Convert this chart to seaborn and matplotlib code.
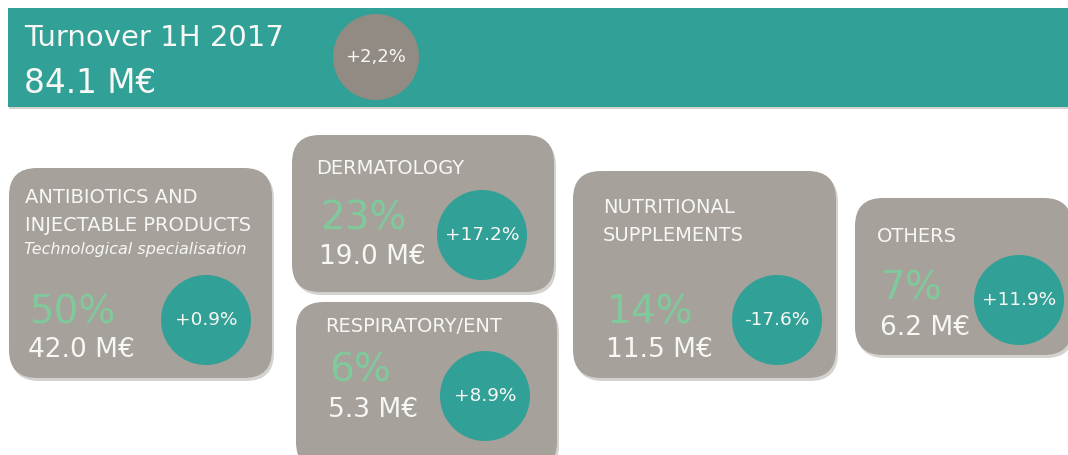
import matplotlib
matplotlib.use("Agg")
import matplotlib.pyplot as plt
import seaborn as sns
from matplotlib.patches import FancyBboxPatch, Circle, Rectangle

# --- data ---
header_title = "Turnover 1H 2017"
total_turnover = 84.1          # M€
total_growth = 2.2             # %

segments = ["ANTIBIOTICS AND\nINJECTABLE PRODUCTS", "DERMATOLOGY", "RESPIRATORY/ENT",
            "NUTRITIONAL\nSUPPLEMENTS", "OTHERS"]
subtitles = ["Technological specialisation", "", "", "", ""]
shares = [50, 23, 6, 14, 7]                  # % of turnover
amounts = [42.0, 19.0, 5.3, 11.5, 6.2]       # M€
growth = [0.9, 17.2, 8.9, -17.6, 11.9]       # % change

# --- layout (pixel coords, y down) ---
# box (x0, y0, x1, y1), text x, first title baseline, pct baseline, amount baseline, circle centre
layout = [
    dict(box=(9, 168, 272, 378), tx=25, ty=203, py=323, ay=357, circ=(206, 320)),
    dict(box=(292, 135, 554, 292), tx=316, ty=174, py=230, ay=264, circ=(482, 235)),
    dict(box=(296, 302, 557, 470), tx=325, ty=332, py=382, ay=417, circ=(485, 396)),
    dict(box=(573, 171, 836, 378), tx=603, ty=213, py=323, ay=357, circ=(777, 320)),
    dict(box=(855, 198, 1072, 355), tx=877, ty=242, py=300, ay=335, circ=(1019, 300)),
]

TEAL = "#31A096"
GREY = "#A6A19B"
DARK_GREY = "#928B84"
GREEN = "#80C99B"
WHITE = "#F7F7F5"
SHADOW = "#D4D2CF"

sns.set_theme(style="white")
plt.rcParams["font.family"] = ["DejaVu Sans"]

fig = plt.figure(figsize=(10.68, 4.55), dpi=100)
ax = fig.add_axes([0, 0, 1, 1])
ax.set_xlim(0, 1068)
ax.set_ylim(455, 0)
ax.set_aspect("equal")
ax.axis("off")

# header band
ax.add_patch(Rectangle((9, 10), 1070, 99, color=SHADOW, lw=0, zorder=1))
ax.add_patch(Rectangle((8, 8), 1070, 99, color=TEAL, lw=0, zorder=2))
ax.text(24, 46, header_title, color=WHITE, fontsize=21, va="baseline", zorder=3)
ax.text(24, 93, f"{total_turnover:.1f} M€", color=WHITE, fontsize=23.5, va="baseline", zorder=3)
ax.add_patch(Circle((376, 57), 43, color=DARK_GREY, lw=0, zorder=3))
ax.text(376, 57, f"{total_growth:+.1f}%".replace(".", ","), color=WHITE, fontsize=13,
        ha="center", va="center", zorder=4)

for name, sub, s, a, g, L in zip(segments, subtitles, shares, amounts, growth, layout):
    x0, y0, x1, y1 = L["box"]
    ax.add_patch(FancyBboxPatch((x0 + 2, y0 + 3), x1 - x0, y1 - y0,
                                boxstyle="round,pad=0,rounding_size=28",
                                color=SHADOW, lw=0, zorder=1))
    ax.add_patch(FancyBboxPatch((x0, y0), x1 - x0, y1 - y0,
                                boxstyle="round,pad=0,rounding_size=28",
                                color=GREY, lw=0, zorder=2))
    for i, line in enumerate(name.split("\n")):
        ax.text(L["tx"], L["ty"] + 28 * i, line, color=WHITE, fontsize=14,
                va="baseline", zorder=3)
    if sub:
        ax.text(L["tx"] - 1, L["ty"] + 51, sub, color=WHITE, fontsize=11.5,
                style="italic", va="baseline", zorder=3)
    ax.text(L["tx"] + 4, L["py"], f"{s}%", color=GREEN, fontsize=28, va="baseline", zorder=3)
    ax.text(L["tx"] + 3, L["ay"], f"{a:.1f} M€", color=WHITE, fontsize=19, va="baseline", zorder=3)
    cx, cy = L["circ"]
    ax.add_patch(Circle((cx, cy), 45, color=TEAL, lw=0, zorder=3))
    ax.text(cx, cy, f"{g:+.1f}%", color=WHITE, fontsize=13.3, ha="center", va="center", zorder=4)

fig.savefig("out.png", dpi=100, facecolor="white")
